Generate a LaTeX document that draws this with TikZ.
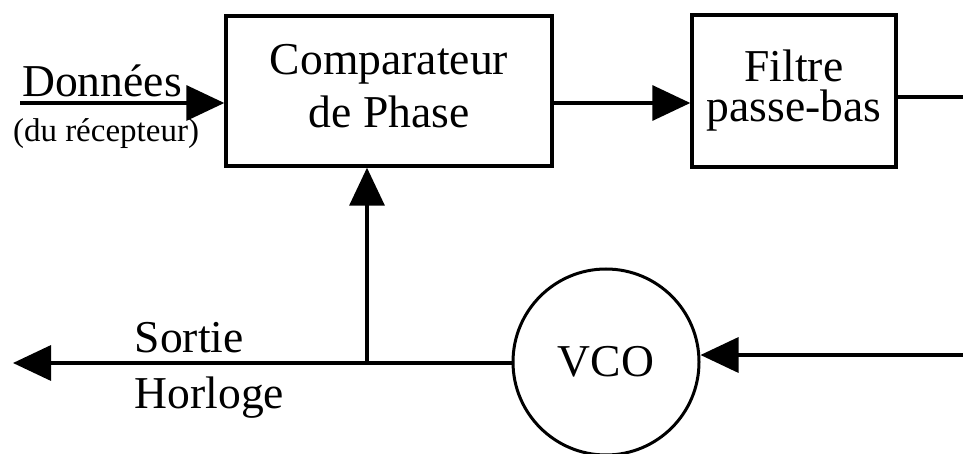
\documentclass[tikz,border=0pt]{standalone}
\usepackage{fontspec}
\setmainfont{Liberation Serif}
\usetikzlibrary{arrows.meta}
\begin{document}
\begin{tikzpicture}[x=1pt,y=-1pt,line width=3.4pt,
  block/.style={draw,rectangle,inner sep=0pt,align=center},
  arr/.style={-{Triangle[length=38pt,width=35pt]}},
  bigtext/.style={font=\fontsize{45.6}{53}\selectfont},
  smalltext/.style={font=\fontsize{33}{38}\selectfont}]
\useasboundingbox (0,0) rectangle (963,454);

% blocks
\node[block,bigtext,minimum width=326pt,minimum height=150pt] (comp) at (389,91)
  {Comparateur\\de Phase\vphantom{p}};
\node[block,font=\fontsize{45.6}{40}\selectfont,minimum width=204pt,minimum height=152pt] (filt) at (794,91)
  {Filtre\\passe-bas};
\node[draw,circle,inner sep=0pt,minimum size=186pt,line width=3pt,bigtext] (vco) at (606,362) {VCO};

% free ends and junction
\coordinate (din) at (20,103);
\coordinate (fout) at (963,97);
\coordinate (vin) at (963,355);
\coordinate (sout) at (13,363);
\coordinate (junc) at (367,363);

% connectors
\draw[arr] (din) -- (din -| comp.west);
\draw[arr] (comp.east |- din) -- (filt.west |- din);
\draw (filt.east |- fout) -- (fout);
\draw[arr] (vin) -- (vin -| vco.east);
\draw[arr] (vco.west |- sout) -- (sout);
\draw[arr] (junc) -- (junc |- comp.south);

% labels
\node[bigtext,anchor=base,inner sep=0pt] (don) at (102,97) {Données};
\node[smalltext,anchor=base,inner sep=0pt] (rec) at (106,142) {(du récepteur)};
\node[bigtext,anchor=base west,inner sep=0pt] (sor) at (133,352) {Sortie};
\node[bigtext,anchor=base west,inner sep=0pt] (hor) at (133,408) {Horloge};
\end{tikzpicture}
\end{document}
